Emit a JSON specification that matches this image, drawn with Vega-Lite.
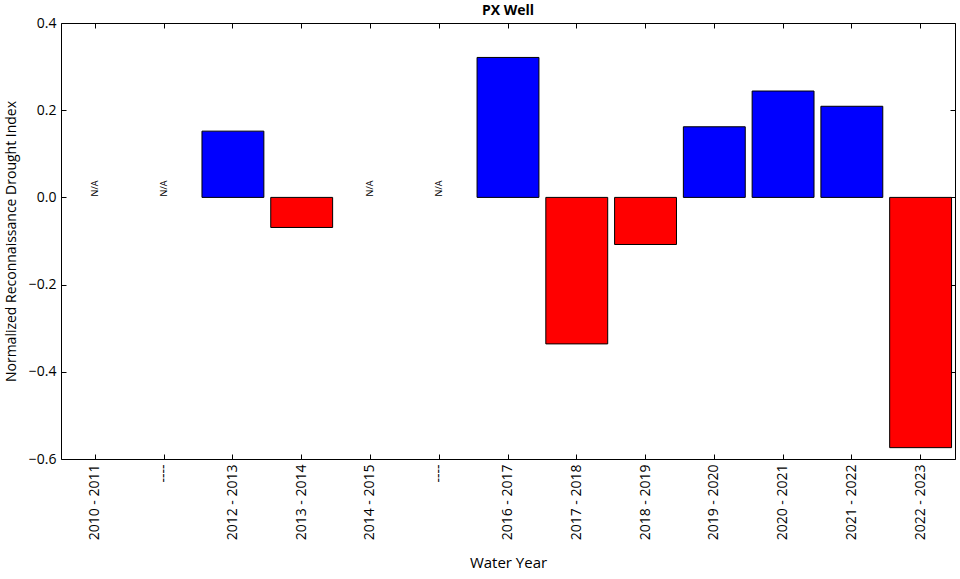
{
  "$schema": "https://vega.github.io/schema/vega-lite/v6.json",
  "autosize": {"type": "none"},
  "padding": {"left": 61, "top": 23, "right": 5, "bottom": 120},
  "width": 894,
  "height": 436,
  "title": {"text": "PX Well", "font": "Open Sans", "fontSize": 14, "fontWeight": "bold", "color": "#000000", "offset": -2},
  "config": {
    "font": "Open Sans",
    "view": {"stroke": "#000000", "strokeWidth": 1},
    "axis": {"grid": false, "domain": false, "tickColor": "#000000", "tickSize": -5, "tickWidth": 1,
             "labelColor": "#000000", "labelFont": "Open Sans", "labelFontSize": 14,
             "titleFont": "Open Sans", "titleFontSize": 15, "titleFontWeight": "normal", "titleColor": "#000000"}
  },
  "data": {
    "values": [
      {"year": "2010 - 2011", "ndi": null},
      {"year": "2011 - 2012", "ndi": null},
      {"year": "2012 - 2013", "ndi": 0.152},
      {"year": "2013 - 2014", "ndi": -0.069},
      {"year": "2014 - 2015", "ndi": null},
      {"year": "2015 - 2016", "ndi": null},
      {"year": "2016 - 2017", "ndi": 0.321},
      {"year": "2017 - 2018", "ndi": -0.336},
      {"year": "2018 - 2019", "ndi": -0.108},
      {"year": "2019 - 2020", "ndi": 0.162},
      {"year": "2020 - 2021", "ndi": 0.244},
      {"year": "2021 - 2022", "ndi": 0.209},
      {"year": "2022 - 2023", "ndi": -0.574}
    ]
  },
  "resolve": {"axis": {"x": "independent", "y": "independent"}},
  "layer": [
    {
      "transform": [{"filter": "datum.ndi != null"}],
      "mark": {"type": "bar", "stroke": "#000000", "strokeWidth": 1},
      "encoding": {
        "x": {"field": "year", "type": "nominal",
              "scale": {"domain": ["2010 - 2011", "2011 - 2012", "2012 - 2013", "2013 - 2014", "2014 - 2015", "2015 - 2016", "2016 - 2017",
                                   "2017 - 2018", "2018 - 2019", "2019 - 2020", "2020 - 2021", "2021 - 2022", "2022 - 2023"],
                        "paddingInner": 0.1, "paddingOuter": 0.05},
              "axis": {"orient": "bottom", "title": "Water Year", "labelAngle": 270, "labelPadding": 10, "titlePadding": 16,
                       "labelExpr": "datum.value == '2011 - 2012' || datum.value == '2015 - 2016' ? '----' : datum.value"}},
        "y": {"field": "ndi", "type": "quantitative",
              "scale": {"domain": [-0.6, 0.4], "nice": false},
              "axis": {"orient": "left", "title": "Normalized Reconnaissance Drought Index", "values": [-0.6, -0.4, -0.2, 0, 0.2, 0.4],
                       "format": ".1f", "labelPadding": 10, "titlePadding": 10, "titleFontSize": 14}},
        "color": {"condition": {"test": "datum.ndi >= 0", "value": "#0000ff"}, "value": "#ff0000"}
      }
    },
    {
      "transform": [{"filter": "datum.ndi == null"}],
      "mark": {"type": "text", "text": "N/A", "angle": 270, "align": "left", "baseline": "middle", "fontSize": 9, "font": "Open Sans", "color": "#000000", "dx": 1},
      "encoding": {
        "x": {"field": "year", "type": "nominal",
              "axis": {"orient": "top", "title": null, "labels": false}},
        "y": {"datum": 0, "type": "quantitative",
              "axis": {"orient": "right", "title": null, "labels": false, "values": [-0.6, -0.4, -0.2, 0, 0.2, 0.4]}}
      }
    }
  ]
}
